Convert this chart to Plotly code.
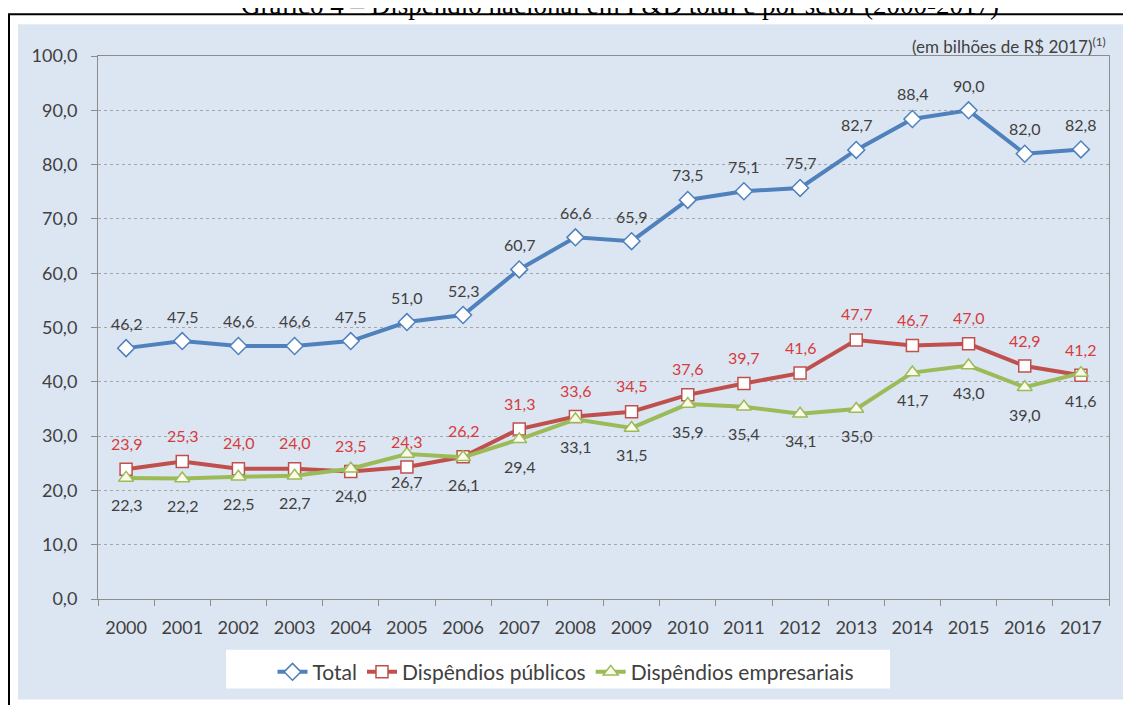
import plotly.graph_objects as go

years = [str(y) for y in range(2000, 2018)]
total = [46.2, 47.5, 46.6, 46.6, 47.5, 51.0, 52.3, 60.7, 66.6, 65.9, 73.5, 75.1, 75.7, 82.7, 88.4, 90.0, 82.0, 82.8]
publicos = [23.9, 25.3, 24.0, 24.0, 23.5, 24.3, 26.2, 31.3, 33.6, 34.5, 37.6, 39.7, 41.6, 47.7, 46.7, 47.0, 42.9, 41.2]
empresariais = [22.3, 22.2, 22.5, 22.7, 24.0, 26.7, 26.1, 29.4, 33.1, 31.5, 35.9, 35.4, 34.1, 35.0, 41.7, 43.0, 39.0, 41.6]
series_names = ["Total", "Dispêndios públicos", "Dispêndios empresariais"]
y_ticks = [0, 10, 20, 30, 40, 50, 60, 70, 80, 90, 100]

# the page body has an 8px margin, so the figure is drawn 8px smaller and everything
# is laid out in reference-pixel coordinates minus that offset
OFF = 8
W, H = 1131 - OFF, 705 - OFF
L, R, T, B = 98, 1109, 56, 602  # plot area in reference pixels
FONT = "Lato"

def px(x):
    return (x - L) / (R - L)

def py(y):
    return (B - y) / (B - T)

def fmt(v):
    return f"{v:.1f}".replace(".", ",")

BLUE = "#4f81bd"
RED = "#c0504d"
GREEN = "#9bbb59"
TXT = "#404040"
RED_TXT = "#d63c3c"

fig = go.Figure()
fig.add_trace(go.Scatter(x=years, y=total, name=series_names[0], mode="lines+markers",
                         line=dict(color=BLUE, width=4),
                         marker=dict(symbol="diamond", size=13, color="white",
                                     line=dict(color=BLUE, width=1.5))))
fig.add_trace(go.Scatter(x=years, y=publicos, name=series_names[1], mode="lines+markers",
                         line=dict(color=RED, width=4),
                         marker=dict(symbol="square", size=12, color="white",
                                     line=dict(color=RED, width=1.5))))
fig.add_trace(go.Scatter(x=years, y=empresariais, name=series_names[2], mode="lines+markers",
                         line=dict(color=GREEN, width=4),
                         marker=dict(symbol="triangle-up", size=13, color="#fbfbe8",
                                     line=dict(color=GREEN, width=1.5))))

# annotations on a category axis use the category index as x
for i, v in enumerate(total):
    fig.add_annotation(x=i, y=v, text=fmt(v), showarrow=False, yshift=25,
                       font=dict(family=FONT, size=16, color=TXT))
for i, v in enumerate(publicos):
    fig.add_annotation(x=i, y=v, text=fmt(v), showarrow=False, yshift=26,
                       font=dict(family=FONT, size=16, color=RED_TXT))
for i, v in enumerate(empresariais):
    fig.add_annotation(x=i, y=v, text=fmt(v), showarrow=False, yshift=-27,
                       font=dict(family=FONT, size=16, color=TXT))

# title (partially cut at top, as in the source)
fig.add_annotation(xref="paper", yref="paper", x=px(620), y=py(22), xanchor="center", yanchor="bottom",
                   text="Gráfico 4 – Dispêndio nacional em P&D total e por setor (2000-2017)",
                   showarrow=False, font=dict(family="Liberation Serif", size=27, color="black"))
# unit note
fig.add_annotation(xref="paper", yref="paper", x=px(1108), y=py(45), xanchor="right", yanchor="middle",
                   text="(em bilhões de R$ 2017)<sup>(1)</sup>", showarrow=False,
                   font=dict(family=FONT, size=17, color=TXT))

fig.add_shape(type="rect", xref="paper", yref="paper", x0=px(18), x1=px(1140), y0=py(24), y1=py(703),
              fillcolor="#dce6f2", line=dict(width=0), layer="below")
fig.add_shape(type="rect", xref="paper", yref="paper", x0=px(9), x1=px(1140), y0=py(14), y1=py(720),
              fillcolor="rgba(0,0,0,0)", line=dict(color="black", width=2), layer="below")
fig.add_shape(type="rect", xref="paper", yref="paper", x0=px(226), x1=px(890), y0=py(653), y1=py(692),
              fillcolor="white", line=dict(width=0), layer="below")

fig.update_layout(
    width=W, height=H,
    margin=dict(l=L - OFF, r=1131 - R, t=T - OFF, b=705 - B, pad=0),
    paper_bgcolor="white", plot_bgcolor="white",
    separators=",.",
    font=dict(family=FONT, color=TXT),
    showlegend=True,
    legend=dict(orientation="h", x=px(566), xanchor="center", y=py(655), yanchor="top",
                bgcolor="rgba(0,0,0,0)", font=dict(family=FONT, size=21, color=TXT),
                itemwidth=30, traceorder="normal"),
    xaxis=dict(type="category", range=[-0.5, 17.5], autorange=False, showgrid=False,
               showline=True, linecolor="#8c8c8c", linewidth=1,
               mirror=True, ticks="outside", tickson="boundaries", ticklen=6, tickcolor="#8c8c8c",
               tickfont=dict(family=FONT, size=18, color=TXT), ticklabelstandoff=12),
    yaxis=dict(range=[0, 100], autorange=False, tickvals=y_ticks, tickformat=".1f", showgrid=True,
               gridcolor="#a6a6a6", griddash="dot", gridwidth=1,
               showline=True, linecolor="#8c8c8c", linewidth=1, mirror=True,
               ticks="outside", ticklen=6, tickcolor="#8c8c8c", zeroline=False,
               tickfont=dict(family=FONT, size=18, color=TXT), ticklabelstandoff=10),
)

fig.write_html("out.html")
